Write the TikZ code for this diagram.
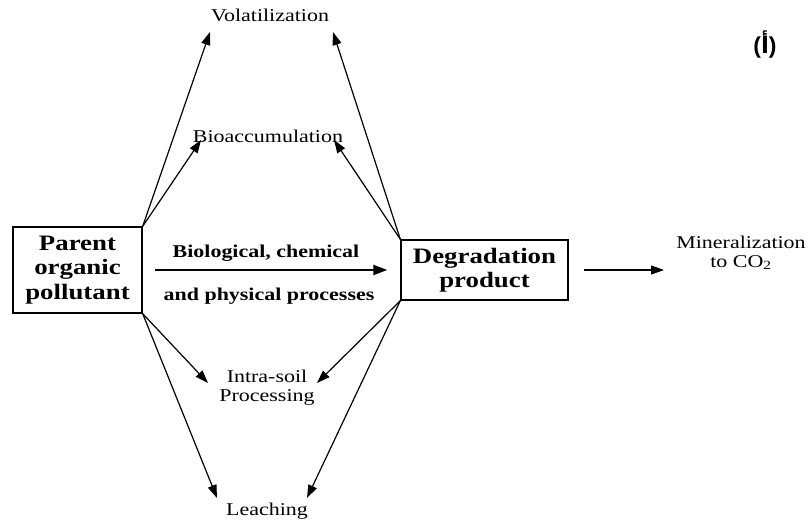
\documentclass[tikz,border=0pt]{standalone}
\usepackage{fontspec}
\setmainfont{Liberation Serif}[FakeStretch=1.22]
\newfontfamily\arabicfont{DejaVu Sans}
\newfontfamily\parenfont{Liberation Sans}
\usetikzlibrary{arrows.meta}
\begin{document}
\begin{tikzpicture}[x=1pt,y=-1pt,
  lbl/.style={inner sep=0pt, align=center, font=\fontsize{18}{19}\selectfont},
  blbl/.style={inner sep=0pt, font=\fontsize{18}{21}\selectfont\bfseries},
  box/.style={draw, line width=1.4pt, inner sep=0pt, align=center, font=\fontsize{22}{24.5}\selectfont\bfseries},
  arr/.style={line width=1.2pt, -{Triangle[length=13pt,width=9pt]}},
  mainarr/.style={line width=2.2pt, -{Triangle[length=14pt,width=10pt]}},
  ]
\useasboundingbox (0,0) rectangle (812,524);
% boxes
\node[box, minimum width=129pt, minimum height=86pt] (parent) at (77.5,270) {Parent\\organic\\pollutant};
\node[box, minimum width=167pt, minimum height=60pt] (deg) at (484.5,270) {Degradation\\product};
% labels
\node[lbl, anchor=base] (vol) at (270,22) {Volatilization};
\node[lbl, anchor=base] (bio) at (268,143) {Bioaccumulation};
\node[lbl, anchor=base] (intra) at (267,401) {Intra-soil\\Processing};
\node[lbl, anchor=base] (leach) at (267,515) {Leaching};
\node[lbl, anchor=base] (mineral) at (741,267) {Mineralization\\to CO\textsubscript{2}};
\node[blbl, anchor=base] (bc) at (266,258) {Biological, chemical};
\node[blbl, anchor=base] (pp) at (269,300) {and physical processes};
\node[inner sep=0pt, font=\fontsize{23}{25}\selectfont\parenfont\bfseries] (alef) at (765,44) {({\arabicfont أ})};
% arrow tips
\coordinate (volL) at (210,32);
\coordinate (volR) at (333,32);
\coordinate (bioL) at (201,140);
\coordinate (bioR) at (334,140);
\coordinate (intraL) at (208,383);
\coordinate (intraR) at (317,383);
\coordinate (leachL) at (217,498);
\coordinate (leachR) at (307,498);
\coordinate (mtip) at (664,270);
% connectors
\draw[arr] (parent.north east) -- (volL);
\draw[arr] (parent.north east) -- (bioL);
\draw[arr] (parent.south east) -- (intraL);
\draw[arr] (parent.south east) -- (leachL);
\draw[arr] (deg.north west) -- (volR);
\draw[arr] (deg.north west) -- (bioR);
\draw[arr] (deg.south west) -- (intraR);
\draw[arr] (deg.south west) -- (leachR);
\draw[mainarr, shorten <=12pt, shorten >=13pt] (parent.east) -- (deg.west);
\draw[arr] ([xshift=15pt]deg.east) -- (mtip);
\end{tikzpicture}
\end{document}
